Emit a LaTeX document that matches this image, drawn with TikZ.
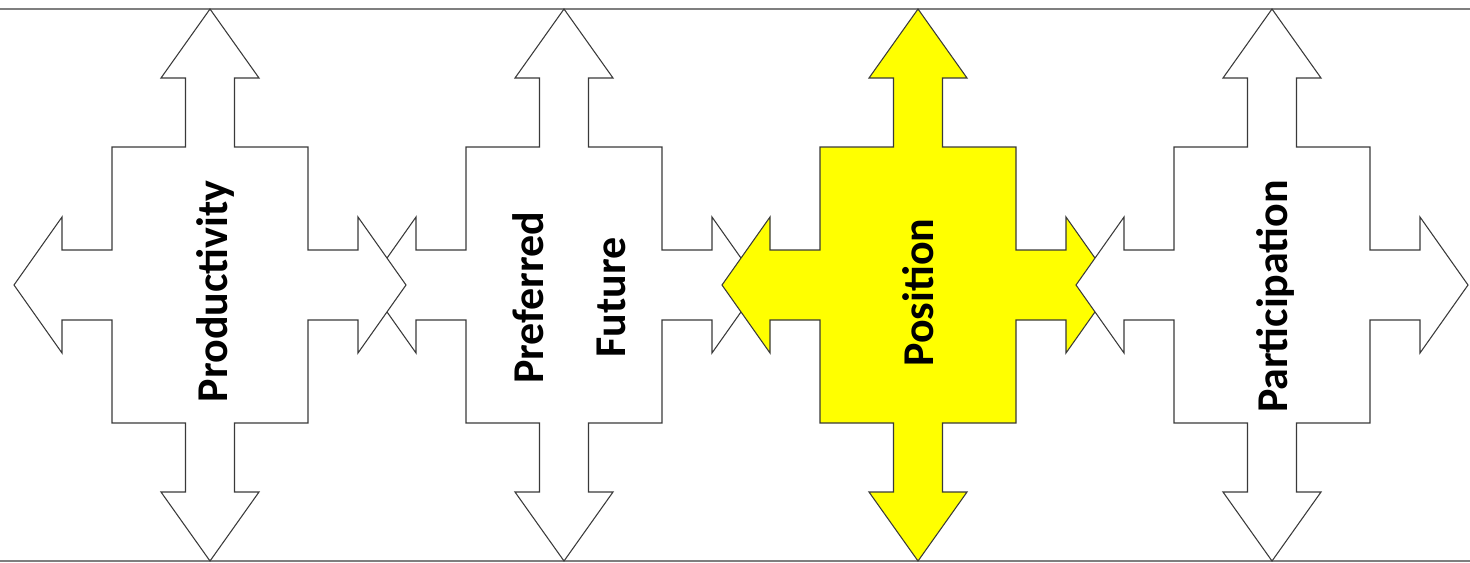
\documentclass[tikz,border=0pt]{standalone}
\usepackage{fontspec}
\setmainfont{Carlito}
\definecolor{hiyellow}{HTML}{FFFF00}
\definecolor{rulegray}{HTML}{7F7F7F}
\definecolor{outline}{HTML}{3A3A3A}
\tikzset{
  outlined/.style={draw=outline, line width=0.8pt, line join=miter},
  rule/.style={draw=rulegray},
  label/.style={rotate=90, anchor=base, inner sep=0pt, text=black,
    font=\fontsize{33}{40}\selectfont\bfseries},
  % four-way arrow: vertical tips at +-276, horizontal tips at +-196
  quadarrow/.pic={
    \path[outlined, pic actions]
      (0,-276) -- (49,-207) -- (24.5,-207) -- (24.5,-138) -- (98,-138)
      -- (98,-35) -- (148,-35) -- (148,-68) -- (196,0) -- (148,68)
      -- (148,35) -- (98,35) -- (98,138) -- (24.5,138) -- (24.5,207)
      -- (49,207) -- (0,276) -- (-49,207) -- (-24.5,207) -- (-24.5,138)
      -- (-98,138) -- (-98,35) -- (-148,35) -- (-148,68) -- (-196,0)
      -- (-148,-68) -- (-148,-35) -- (-98,-35) -- (-98,-138)
      -- (-24.5,-138) -- (-24.5,-207) -- (-49,-207) -- cycle;
  }
}
\begin{document}
\begin{tikzpicture}[x=0.75pt, y=-0.75pt]
  \useasboundingbox (0,0) rectangle (1470,562);
  % frame rules
  \draw[rule, line width=1.8pt] (0,9) -- (1470,9);
  \draw[rule, line width=1.1pt] (0,561) -- (1470,561);
  % arrows, in stacking order
  \pic[fill=white] at (564,285) {quadarrow};
  \pic[fill=white] at (210,285) {quadarrow};
  \pic[fill=hiyellow] at (918,285) {quadarrow};
  \pic[fill=white] at (1272,285) {quadarrow};
  % labels
  \node[label] (productivity) at (227,291.5) {Productivity};
  \node[label] (preferred) at (543,297.5) {Preferred};
  \node[label] (future) at (625,297.5) {Future};
  \node[label] (position) at (933,292.5) {Position};
  \node[label] (participation) at (1287,296.5) {Participation};
\end{tikzpicture}
\end{document}
